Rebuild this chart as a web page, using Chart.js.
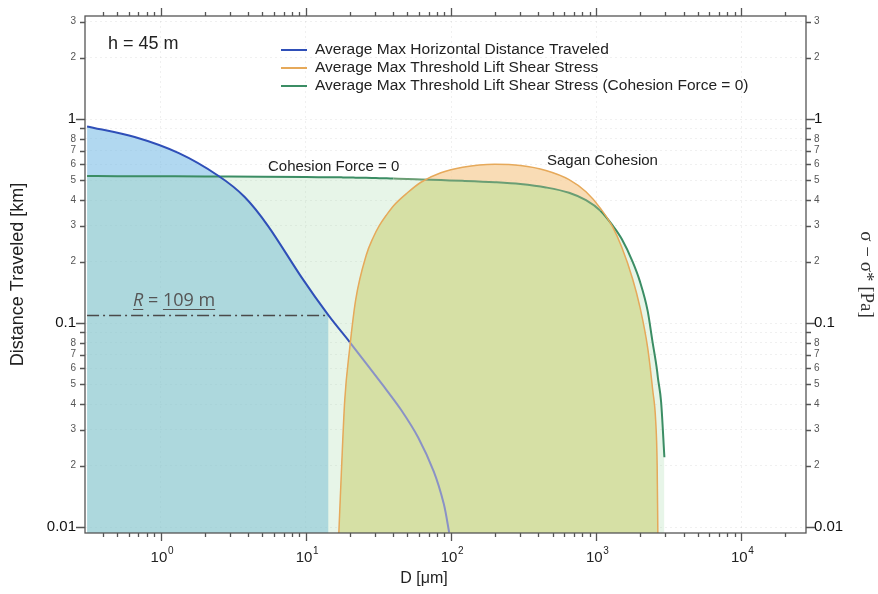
<!DOCTYPE html>
<html>
<head>
<meta charset="utf-8">
<script src="https://cdn.jsdelivr.net/npm/chart.js@4.4.1/dist/chart.umd.min.js"></script>
<style>
  html, body { margin: 0; padding: 0; background: #fff; }
  canvas { display: block; }
</style>
</head>
<body>
<canvas id="chart" width="878" height="594"></canvas>
<script>
// Particle diameter D [um] vs distance / shear stress
const blueX = [0.31, 0.66, 1.33, 2.5, 3.78, 5.5, 9.3, 14.3, 20, 34.7, 45.3, 59.3, 76, 89, 97];
const blueY = [0.92, 0.816, 0.68, 0.526, 0.415, 0.298, 0.168, 0.109, 0.0807, 0.0485, 0.0375, 0.0275, 0.0187, 0.013, 0.0094];

const greenX = [0.31, 0.5, 1, 2, 5, 10, 16.8, 17.5, 18.5, 20, 22, 26, 29, 32, 36, 40, 50, 62, 85, 120, 200, 300, 450, 650, 850, 1070, 1300, 1500, 1780, 2000, 2260, 2450, 2570, 2630, 2660, 2800, 2950];
const greenY = [0.526, 0.525, 0.524, 0.523, 0.522, 0.52, 0.518, 0.518, 0.517, 0.517, 0.516, 0.515, 0.514, 0.513, 0.512, 0.511, 0.509, 0.506, 0.502, 0.498, 0.49, 0.48, 0.462, 0.435, 0.40, 0.355, 0.30, 0.258, 0.20, 0.16, 0.115, 0.08, 0.065, 0.058, 0.054, 0.041, 0.022];

const orangeX = [16.8, 17.5, 18.5, 20, 22, 26, 29, 32, 36, 40, 50, 62, 85, 120, 200, 300, 450, 650, 850, 1070, 1300, 1500, 1780, 2000, 2260, 2450, 2570, 2630, 2660];
const orangeY = [0.009, 0.018, 0.042, 0.075, 0.13, 0.215, 0.262, 0.30, 0.34, 0.375, 0.435, 0.49, 0.545, 0.58, 0.6, 0.592, 0.56, 0.505, 0.44, 0.365, 0.295, 0.235, 0.165, 0.12, 0.076, 0.047, 0.033, 0.02, 0.009];

// R = 109 m reference line
const rangeX = [0.31, 14.3];
const rangeY = [0.109, 0.109];

const xMajor = [1, 10, 100, 1000, 10000];
const xExp = ["0", "1", "2", "3", "4"];
const xMinorSteps = [2, 3, 4, 5, 6, 7, 8, 9];
const xDecades = [0.1, 1, 10, 100, 1000, 10000];

const yTicks = [0.01, 0.02, 0.03, 0.04, 0.05, 0.06, 0.07, 0.08, 0.09,
                0.1, 0.2, 0.3, 0.4, 0.5, 0.6, 0.7, 0.8, 0.9, 1, 2, 3];
const yLabels = ["0.01", "2", "3", "4", "5", "6", "7", "8", "",
                 "0.1", "2", "3", "4", "5", "6", "7", "8", "", "1", "2", "3"];
const yMajor = [0.01, 0.1, 1];

const legendNames = [
  "Average Max Horizontal Distance Traveled",
  "Average Max Threshold Lift Shear Stress",
  "Average Max Threshold Lift Shear Stress (Cohesion Force = 0)"
];

const SANS = '"Liberation Sans", Arial, sans-serif';
const X_MIN = 0.31, X_MAX = 27900, Y_MIN = 0.00935, Y_MAX = 3.2;

const pts = (xs, ys) => xs.map((x, i) => ({ x: x, y: ys[i] }));

// part under both the orange dome and the green line
const overlapY = orangeX.map((x, i) => Math.min(orangeY[i], greenY[greenX.indexOf(x)]));

const xMinor = [];
xDecades.forEach(d => xMinorSteps.forEach(s => {
  const v = +(s * d).toPrecision(3);
  if (v > X_MIN && v < X_MAX) xMinor.push(v);
}));

// tick marks, frame, legend and labels
const decor = {
  id: "decor",
  afterDraw(chart) {
    const c = chart.ctx;
    const a = chart.chartArea;
    const xs = chart.scales.x;
    const ys = chart.scales.y;
    c.save();
    c.strokeStyle = "#555";
    c.lineWidth = 1.3;
    c.strokeRect(a.left, a.top, a.right - a.left, a.bottom - a.top);

    c.beginPath();
    xMajor.concat(xMinor).forEach(v => {
      const px = Math.round(xs.getPixelForValue(v)) + 0.5;
      const len = xMajor.includes(v) ? 8 : 4;
      c.moveTo(px, a.bottom); c.lineTo(px, a.bottom + len);
      c.moveTo(px, a.top); c.lineTo(px, a.top - len);
    });
    yTicks.forEach(v => {
      const py = Math.round(ys.getPixelForValue(v)) + 0.5;
      const len = yMajor.includes(v) ? 9 : 5;
      c.moveTo(a.left, py); c.lineTo(a.left - len, py);
      c.moveTo(a.right, py); c.lineTo(a.right + len, py);
    });
    c.stroke();

    // x tick labels 10^n
    c.fillStyle = "#222";
    xMajor.forEach((v, i) => {
      const px = xs.getPixelForValue(v);
      c.font = "15px " + SANS;
      c.textAlign = "center";
      c.textBaseline = "middle";
      c.fillText("10", px - 2, 558);
      c.font = "10px " + SANS;
      c.textAlign = "left";
      c.fillText(xExp[i], px + 7, 551);
    });
    c.font = "16px " + SANS;
    c.textAlign = "center";
    c.fillText("D [μm]", 424, 579);

    // legend
    const colors = ["#2f4fb8", "#e6a95a", "#3b8d64"];
    c.textAlign = "left";
    c.font = "15.5px " + SANS;
    legendNames.forEach((name, i) => {
      const y = 50 + i * 18;
      c.strokeStyle = colors[i];
      c.lineWidth = 2;
      c.beginPath(); c.moveTo(281, y); c.lineTo(307, y); c.stroke();
      c.fillStyle = "#222";
      c.fillText(name, 315, y);
    });

    // annotations
    c.font = "18px " + SANS;
    c.fillText("h = 45 m", 108, 44);
    c.font = "15px " + SANS;
    c.fillText("Cohesion Force = 0", 268, 167);
    c.fillText("Sagan Cohesion", 547, 161);

    c.fillStyle = "#555";
    c.strokeStyle = "#555";
    c.lineWidth = 1.2;
    c.textBaseline = "alphabetic";
    c.font = 'italic 18px "Open Sans", sans-serif';
    c.fillText("R", 133, 306);
    const rw = c.measureText("R").width;
    c.font = '18px "Open Sans", sans-serif';
    const eq = " = ";
    c.fillText(eq, 133 + rw, 306);
    const ew = c.measureText(eq).width;
    c.fillText("109 m", 133 + rw + ew, 306);
    const nw = c.measureText("109 m").width;
    c.beginPath();
    c.moveTo(133, 309.5); c.lineTo(133 + rw, 309.5);
    c.moveTo(133 + rw + ew, 309.5); c.lineTo(133 + rw + ew + nw, 309.5);
    c.stroke();
    c.restore();
  }
};

const yTickFont = ctx => (ctx.tick && yMajor.includes(ctx.tick.value))
  ? { family: SANS, size: 15 } : { family: SANS, size: 10 };
const yTickColor = ctx => (ctx.tick && yMajor.includes(ctx.tick.value)) ? "#111" : "#555";
const setYTicks = scale => { scale.ticks = yTicks.map(v => ({ value: v })); };

new Chart(document.getElementById("chart"), {
  type: "line",
  data: {
    datasets: [
      {
        label: legendNames[0],
        data: pts(blueX, blueY),
        borderColor: "#2f4fb8",
        borderWidth: 2,
        order: 1,
        cubicInterpolationMode: "default",
        tension: 0.3,
        segment: { borderColor: ctx => ctx.p0.parsed.x >= 20 ? "#8a92c6" : undefined }
      },
      {
        label: legendNames[1],
        data: pts(orangeX, orangeY),
        borderColor: "#e6a95a",
        borderWidth: 1.5,
        order: 0
      },
      {
        label: legendNames[2],
        data: pts(greenX, greenY),
        borderColor: "#3b8d64",
        borderWidth: 2,
        order: 2,
        segment: { borderColor: ctx => (ctx.p0.parsed.x >= 40 && ctx.p1.parsed.x <= 1070) ? "#6a9e74" : undefined }
      },
      {
        data: pts(rangeX, rangeY),
        borderColor: "#4a4a4a",
        borderWidth: 1.5,
        borderDash: [12, 4, 2, 4],
        order: 3
      },
      {
        data: pts(orangeX, overlapY),
        borderColor: "transparent",
        fill: "start",
        backgroundColor: "rgba(212,225,165,0.92)",
        order: 4
      },
      {
        data: pts(orangeX, orangeY),
        borderColor: "transparent",
        fill: "start",
        backgroundColor: "rgba(246,205,150,0.7)",
        order: 5
      },
      {
        data: pts(greenX, greenY),
        borderColor: "transparent",
        fill: "start",
        backgroundColor: "rgba(160,215,165,0.25)",
        order: 6
      },
      {
        data: pts(blueX.slice(0, 8), blueY.slice(0, 8)),
        borderColor: "transparent",
        fill: "start",
        cubicInterpolationMode: "default",
        tension: 0.3,
        backgroundColor: "rgba(125,190,230,0.6)",
        order: 7
      }
    ]
  },
  options: {
    responsive: false,
    animation: false,
    layout: { padding: { top: 16, left: 0, right: 0, bottom: 0 } },
    elements: {
      point: { radius: 0, hoverRadius: 0 },
      line: { cubicInterpolationMode: "monotone" }
    },
    plugins: {
      legend: { display: false },
      tooltip: { enabled: false }
    },
    scales: {
      x: {
        type: "logarithmic",
        position: "bottom",
        min: X_MIN,
        max: X_MAX,
        afterBuildTicks: scale => { scale.ticks = xMajor.map(v => ({ value: v })); },
        afterFit: scale => { scale.height = 61; },
        ticks: { display: false },
        grid: { color: "rgba(0,0,0,0.06)", drawTicks: false },
        border: { display: false, dash: [2, 3] }
      },
      y: {
        type: "logarithmic",
        position: "left",
        min: Y_MIN,
        max: Y_MAX,
        afterBuildTicks: setYTicks,
        afterFit: scale => { scale.width = 85; },
        ticks: {
          autoSkip: false,
          padding: 9,
          font: yTickFont,
          color: yTickColor,
          callback: (v, i) => yLabels[i]
        },
        grid: { color: "rgba(0,0,0,0.06)", drawTicks: false },
        border: { display: false, dash: [2, 3] },
        title: {
          display: true,
          text: "Distance Traveled [km]",
          color: "#222",
          font: { family: SANS, size: 18 },
          padding: { top: 7, bottom: 0 }
        }
      },
      y2: {
        type: "logarithmic",
        position: "right",
        min: Y_MIN,
        max: Y_MAX,
        afterBuildTicks: setYTicks,
        afterFit: scale => { scale.width = 72; },
        ticks: {
          autoSkip: false,
          padding: 8,
          font: yTickFont,
          color: yTickColor,
          callback: (v, i) => yLabels[i]
        },
        grid: { display: false, drawTicks: false },
        border: { display: false },
        title: {
          display: true,
          text: "σ − σ* [Pa]",
          color: "#333",
          font: { family: '"Liberation Serif", "DejaVu Serif", serif', size: 19 },
          padding: { top: 1, bottom: 0 }
        }
      }
    }
  },
  plugins: [decor]
});
</script>
</body>
</html>
